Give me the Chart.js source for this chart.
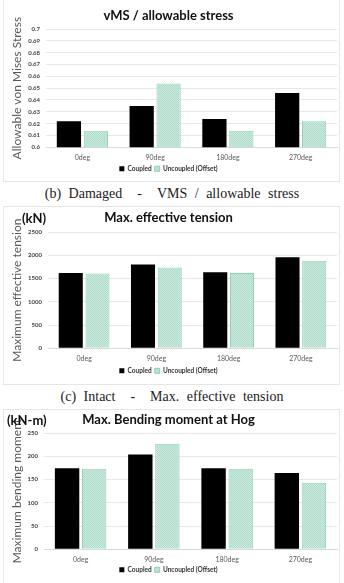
<!DOCTYPE html>
<html>
<head>
<meta charset="utf-8">
<script src="https://cdn.jsdelivr.net/npm/chart.js@4/dist/chart.umd.min.js"></script>
<style>
  body { margin: 0; background: #fff; width: 344px; height: 583px; overflow: hidden; position: relative; }
  .panel { position: absolute; left: 3px; width: 337px; border: 1px solid #e6e6e6; box-sizing: border-box; }
  .box { position: absolute; left: 0; }
  .caption { position: absolute; left: 0; width: 344px; text-align: center; font-family: "Liberation Serif", serif; font-size: 14px; word-spacing: 4px; color: #222; line-height: 16px; }
  .unit { position: absolute; font-family: Lato, sans-serif; font-weight: bold; font-size: 13px; color: #111; line-height: 14px; }
</style>
</head>
<body>
<div class="panel" style="top:-1px;height:183px"></div>
<div class="panel" style="top:206px;height:179px"></div>
<div class="panel" style="top:409px;height:180px"></div>

<div class="box" style="top:0px"><canvas id="vms" width="344" height="182"></canvas></div>
<div class="box" style="top:206px"><canvas id="tension" width="344" height="178"></canvas></div>
<div class="box" style="top:410px"><canvas id="moment" width="344" height="173"></canvas></div>

<div class="caption" style="top:186px">(b) Damaged &nbsp;- &nbsp;VMS / allowable stress</div>
<div class="caption" style="top:389px">(c) Intact &nbsp;- &nbsp;Max. effective tension</div>

<div class="unit" style="left:22px;top:211px">(kN)</div>
<div class="unit" style="left:7px;top:413px">(kN-m)</div>

<script>
const categories = ['0deg', '90deg', '180deg', '270deg'];
const seriesNames = ['Coupled', 'Uncoupled (Offset)'];

const vmsCoupled = [0.622, 0.635, 0.624, 0.646];
const vmsUncoupled = [0.614, 0.654, 0.614, 0.622];

const tensionCoupled = [1620, 1800, 1635, 1955];
const tensionUncoupled = [1610, 1735, 1620, 1880];

const momentCoupled = [174, 204, 174, 164];
const momentUncoupled = [173, 227, 173, 143];

// fine dotted light green fill like the excel pattern
function makePattern() {
    const c = document.createElement('canvas');
    c.width = 2;
    c.height = 2;
    const g = c.getContext('2d');
    g.fillStyle = '#c9eadd';
    g.fillRect(0, 0, 2, 2);
    g.fillStyle = '#afdcca';
    g.fillRect(0, 0, 1, 1);
    g.fillRect(1, 1, 1, 1);
    return g.createPattern(c, 'repeat');
}
const greenFill = makePattern();

const FONT = 'Lato, "Open Sans", sans-serif';

function makeChart(id, opts) {
    const legendH = 13.8;
    const canvasH = document.getElementById(id).height;
    const legendTop = canvasH - legendH;
    const titleLH = 15.6;

    return new Chart(document.getElementById(id).getContext('2d'), {
        type: 'bar',
        data: {
            labels: categories,
            datasets: [
                {
                    label: seriesNames[0],
                    data: opts.coupled,
                    backgroundColor: '#000000',
                    borderColor: '#000000',
                    borderWidth: 0
                },
                {
                    label: seriesNames[1],
                    data: opts.uncoupled,
                    backgroundColor: greenFill,
                    borderColor: '#93cfb7',
                    borderWidth: 1
                }
            ]
        },
        options: {
            responsive: false,
            maintainAspectRatio: false,
            animation: false,
            layout: { padding: { left: 0, right: 7, top: 0, bottom: 0 } },
            datasets: { bar: { categoryPercentage: 0.74, barPercentage: 0.9 } },
            plugins: {
                title: {
                    display: true,
                    text: opts.title,
                    color: '#111',
                    font: { family: FONT, size: 13, weight: 'bold', lineHeight: 1.2 },
                    padding: { top: opts.titleY - titleLH / 2, bottom: opts.plotTop - opts.titleY - titleLH / 2 }
                },
                legend: {
                    position: 'bottom',
                    labels: {
                        color: '#333',
                        boxWidth: 5,
                        boxHeight: 5,
                        padding: 3,
                        font: { family: FONT, size: 6.5, weight: 'bold' }
                    }
                },
                tooltip: { enabled: false }
            },
            scales: {
                x: {
                    grid: { display: false, drawTicks: false },
                    border: { display: true, color: '#d9d9d9' },
                    ticks: { color: '#595959', padding: 6, font: { family: FONT, size: 7 } },
                    afterFit: scale => { scale.height = legendTop - opts.plotBottom; }
                },
                y: {
                    min: opts.min,
                    max: opts.max,
                    grid: { color: '#e8e8e8', drawTicks: false },
                    border: { display: false },
                    ticks: {
                        stepSize: opts.step,
                        color: '#444',
                        padding: 6,
                        font: { family: FONT, size: 6, weight: 'bold' },
                        callback: v => opts.fmt(v)
                    },
                    title: {
                        display: true,
                        text: opts.yTitle,
                        color: '#595959',
                        padding: { top: 10, bottom: 0 },
                        font: { family: FONT, size: 12 }
                    },
                    afterFit: scale => { scale.width = opts.plotLeft; }
                }
            }
        }
    });
}

makeChart('vms', {
    title: 'vMS / allowable stress',
    yTitle: 'Allowable von Mises Stress',
    coupled: vmsCoupled,
    uncoupled: vmsUncoupled,
    min: 0.6, max: 0.7, step: 0.01,
    fmt: v => String(Math.round(v * 100) / 100),
    titleY: 16, plotTop: 29, plotBottom: 153, plotLeft: 46
});

makeChart('tension', {
    title: 'Max. effective tension',
    yTitle: 'Maximum effective tension',
    coupled: tensionCoupled,
    uncoupled: tensionUncoupled,
    min: 0, max: 2500, step: 500,
    fmt: v => String(v),
    titleY: 12, plotTop: 26, plotBottom: 148, plotLeft: 48
});

makeChart('moment', {
    title: 'Max. Bending moment at Hog',
    yTitle: 'Maximum bending moment',
    coupled: momentCoupled,
    uncoupled: momentUncoupled,
    min: 0, max: 250, step: 50,
    fmt: v => String(v),
    titleY: 10, plotTop: 23, plotBottom: 145, plotLeft: 44
});
</script>
</body>
</html>
